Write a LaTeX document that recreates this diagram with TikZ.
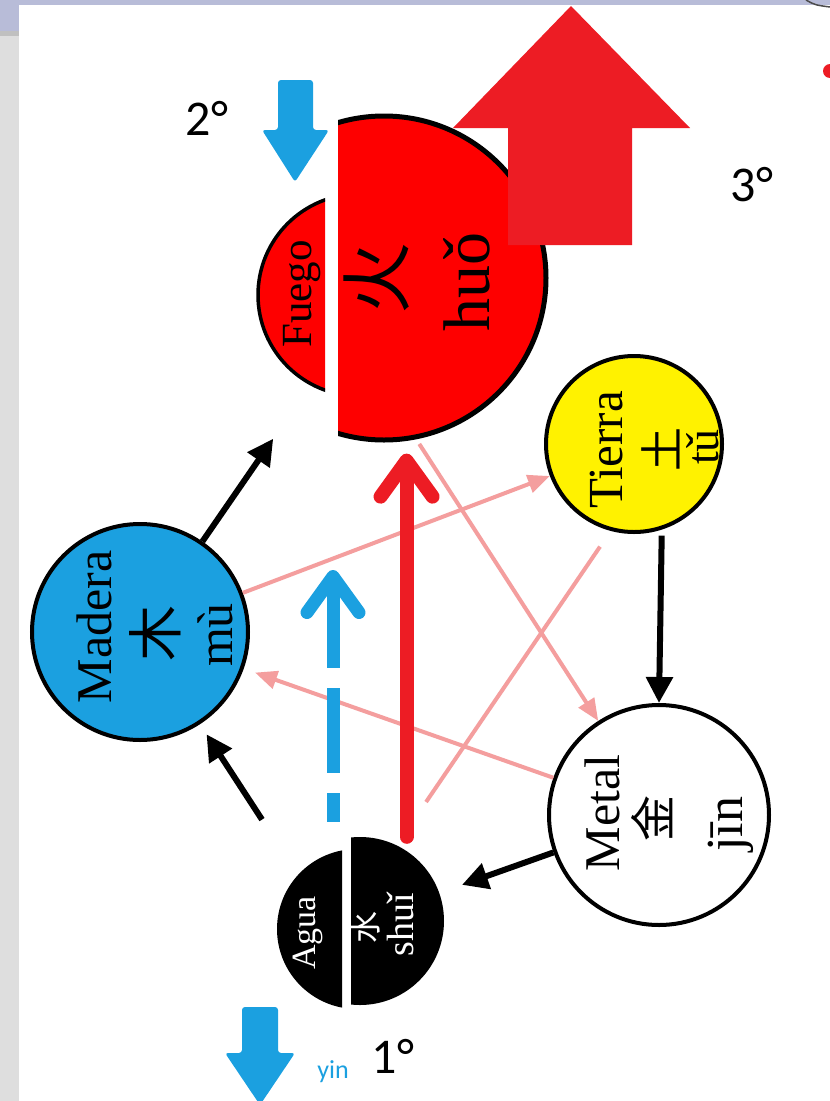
\documentclass[tikz,border=0pt]{standalone}
\usepackage{fontspec}
\setmainfont{Liberation Serif}
\newfontfamily\calfont{Carlito}
\newfontfamily\cjk{Noto Sans CJK SC}
\usetikzlibrary{arrows.meta}
\definecolor{woodblue}{RGB}{27,160,224}
\definecolor{firered}{RGB}{254,0,0}
\definecolor{arrowred}{RGB}{237,28,36}
\definecolor{ctrlpink}{RGB}{244,158,158}
\definecolor{slidegray}{RGB}{222,222,222}
\definecolor{slideband}{RGB}{184,188,216}
\definecolor{bandshade}{RGB}{192,192,192}

\begin{document}
\begin{tikzpicture}[x=1pt,y=-1pt,
    elem/.style={circle,draw=none,inner sep=0pt},
    lbl/.style={rotate=90,inner sep=0pt},
    gen/.style={line width=6pt,-{Triangle[length=26pt,width=26pt]}},
    ctrl/.style={ctrlpink,line width=4pt,-{Triangle[length=22pt,width=18pt]}},
    redup/.style={arrowred,line width=14pt,line cap=round,
      -{Straight Barb[length=36pt,width=52pt,round]}},
    bluedash/.style={woodblue,line width=13pt,dash pattern=on 85pt off 20pt,
      {Straight Barb[length=36pt,width=52pt,round]}-},
    num/.style={font=\calfont\fontsize{50}{50}\selectfont,inner sep=0pt}]
  \useasboundingbox (0,0) rectangle (830,1101);
  % slide background
  \fill[slidegray] (0,0) rectangle (830,1101);
  \fill[slideband] (0,0) rectangle (830,31);
  \fill[bandshade] (0,31) rectangle (19,36);
  \fill[white] (19,5) rectangle (830,1101);
  \draw[black!70,line width=1.5pt] (806,0) .. controls (815,5) .. (830,7);
  \fill[arrowred] (830,71) circle (7);

  % the five elements
  \node[elem,draw,line width=4pt,fill=woodblue,minimum size=216pt] (madera) at (140,632) {};
  \node[elem,draw,line width=4pt,fill=yellow,minimum size=176pt] (tierra) at (634,444) {};
  \node[elem,draw,line width=4pt,fill=white,minimum size=220pt] (metal) at (659,815) {};
  \node[elem,minimum size=324pt] (fuego) at (384,278) {};
  \node[elem,minimum size=168pt] (agua) at (360,921) {};
  \begin{scope}
    \clip (338,100) rectangle (600,460);
    \draw[line width=5pt,fill=firered] (fuego) circle (162);
  \end{scope}
  \begin{scope}
    \clip (200,150) rectangle (325,420);
    \draw[line width=3.5pt,fill=firered] (359,295) circle (101);
  \end{scope}
  \begin{scope}
    \clip (351,800) rectangle (460,1020);
    \fill (agua) circle (84);
  \end{scope}
  \begin{scope}
    \clip (250,800) rectangle (342,1020);
    \fill (357,929) circle (80);
  \end{scope}

  % names
  \node[lbl,font=\fontsize{50}{50}\selectfont] (maderaname) at (94,627) {Madera};
  \node[lbl,font=\cjk\fontsize{56}{56}\selectfont] (maderahan) at (155,633) {木};
  \node[lbl,font=\fontsize{50}{50}\selectfont] (maderapy) at (215,635) {mù};
  \node[lbl,font=\fontsize{43}{43}\selectfont] (fuegoname) at (302,294) {Fuego};
  \node[lbl,font=\cjk\fontsize{72}{72}\selectfont] (fuegohan) at (377,278) {火};
  \node[lbl,font=\fontsize{66}{66}\selectfont] (fuegopy) at (467,282) {huǒ};
  \node[lbl,font=\fontsize{49}{49}\selectfont] (tierraname) at (607,450) {Tierra};
  \node[lbl,font=\cjk\fontsize{44}{44}\selectfont] (tierrahan) at (661,449) {土};
  \node[lbl,font=\fontsize{46}{46}\selectfont] (tierrapy) at (703,447) {tǔ};
  \node[lbl,font=\fontsize{50}{50}\selectfont] (metalname) at (602,813) {Metal};
  \node[lbl,font=\cjk\fontsize{46}{46}\selectfont] (metalhan) at (652,818) {金};
  \node[lbl,font=\fontsize{52}{52}\selectfont] (metalpy) at (731,824) {jīn};
  \node[lbl,white,font=\fontsize{34}{34}\selectfont] (aguaname) at (308,933) {Agua};
  \node[lbl,white,font=\cjk\fontsize{32}{32}\selectfont] (aguahan) at (365,927) {水};
  \node[lbl,white,font=\fontsize{38}{38}\selectfont] (aguapy) at (400,925) {shuǐ};

  % control cycle
  \draw[ctrl] (madera) -- (tierra);
  \draw[ctrl,shorten >=12pt] (metal) -- (madera);
  \draw[ctrl,shorten <=8pt] (fuego.-79) -- (metal);
  \draw[ctrl,-,shorten <=144pt,shorten >=19pt] ([xshift=-15pt]agua.center) -- (tierra.-105);

  % generation cycle
  \draw[gen,shorten >=33pt] (madera) -- (fuego);
  \draw[gen,shorten <=6pt] (tierra.-72) -- (metal.north);
  \draw[gen,shorten >=24pt] (metal) -- (agua);
  \draw[gen,shorten <=121pt,shorten >=12pt] ([xshift=-32pt]agua.center) -- (madera);

  % yin / yang arrows
  \coordinate (yangtip) at (333,570);
  \draw[bluedash,shorten >=15pt] (yangtip) -- (agua.north -| yangtip);
  \draw[redup,shorten >=15pt] (agua.north -| fuego.-82) -- (fuego.-82);

  % block arrows
  \fill[arrowred] (571,6) -- (690,128) -- (632,128) -- (632,245) -- (508,245)
    -- (508,128) -- (453,128) -- cycle;
  \fill[woodblue,rounded corners=3pt] (278,80) -- (313,80) -- (313,130) -- (329,130)
    -- (295,182) -- (262,130) -- (278,130) -- cycle;
  \fill[woodblue,rounded corners=3pt] (242,1007) -- (278,1007) -- (278,1053) -- (295,1053)
    -- (260,1105) -- (225,1053) -- (242,1053) -- cycle;

  % steps
  \node[num] (stepone) at (393,1056) {1°};
  \node[num] (steptwo) at (207,118) {2°};
  \node[num] (stepthree) at (752,185) {3°};
  \node[woodblue,inner sep=0pt,font=\calfont\fontsize{26}{26}\selectfont] (yin) at (333,1072) {yin};
\end{tikzpicture}
\end{document}
